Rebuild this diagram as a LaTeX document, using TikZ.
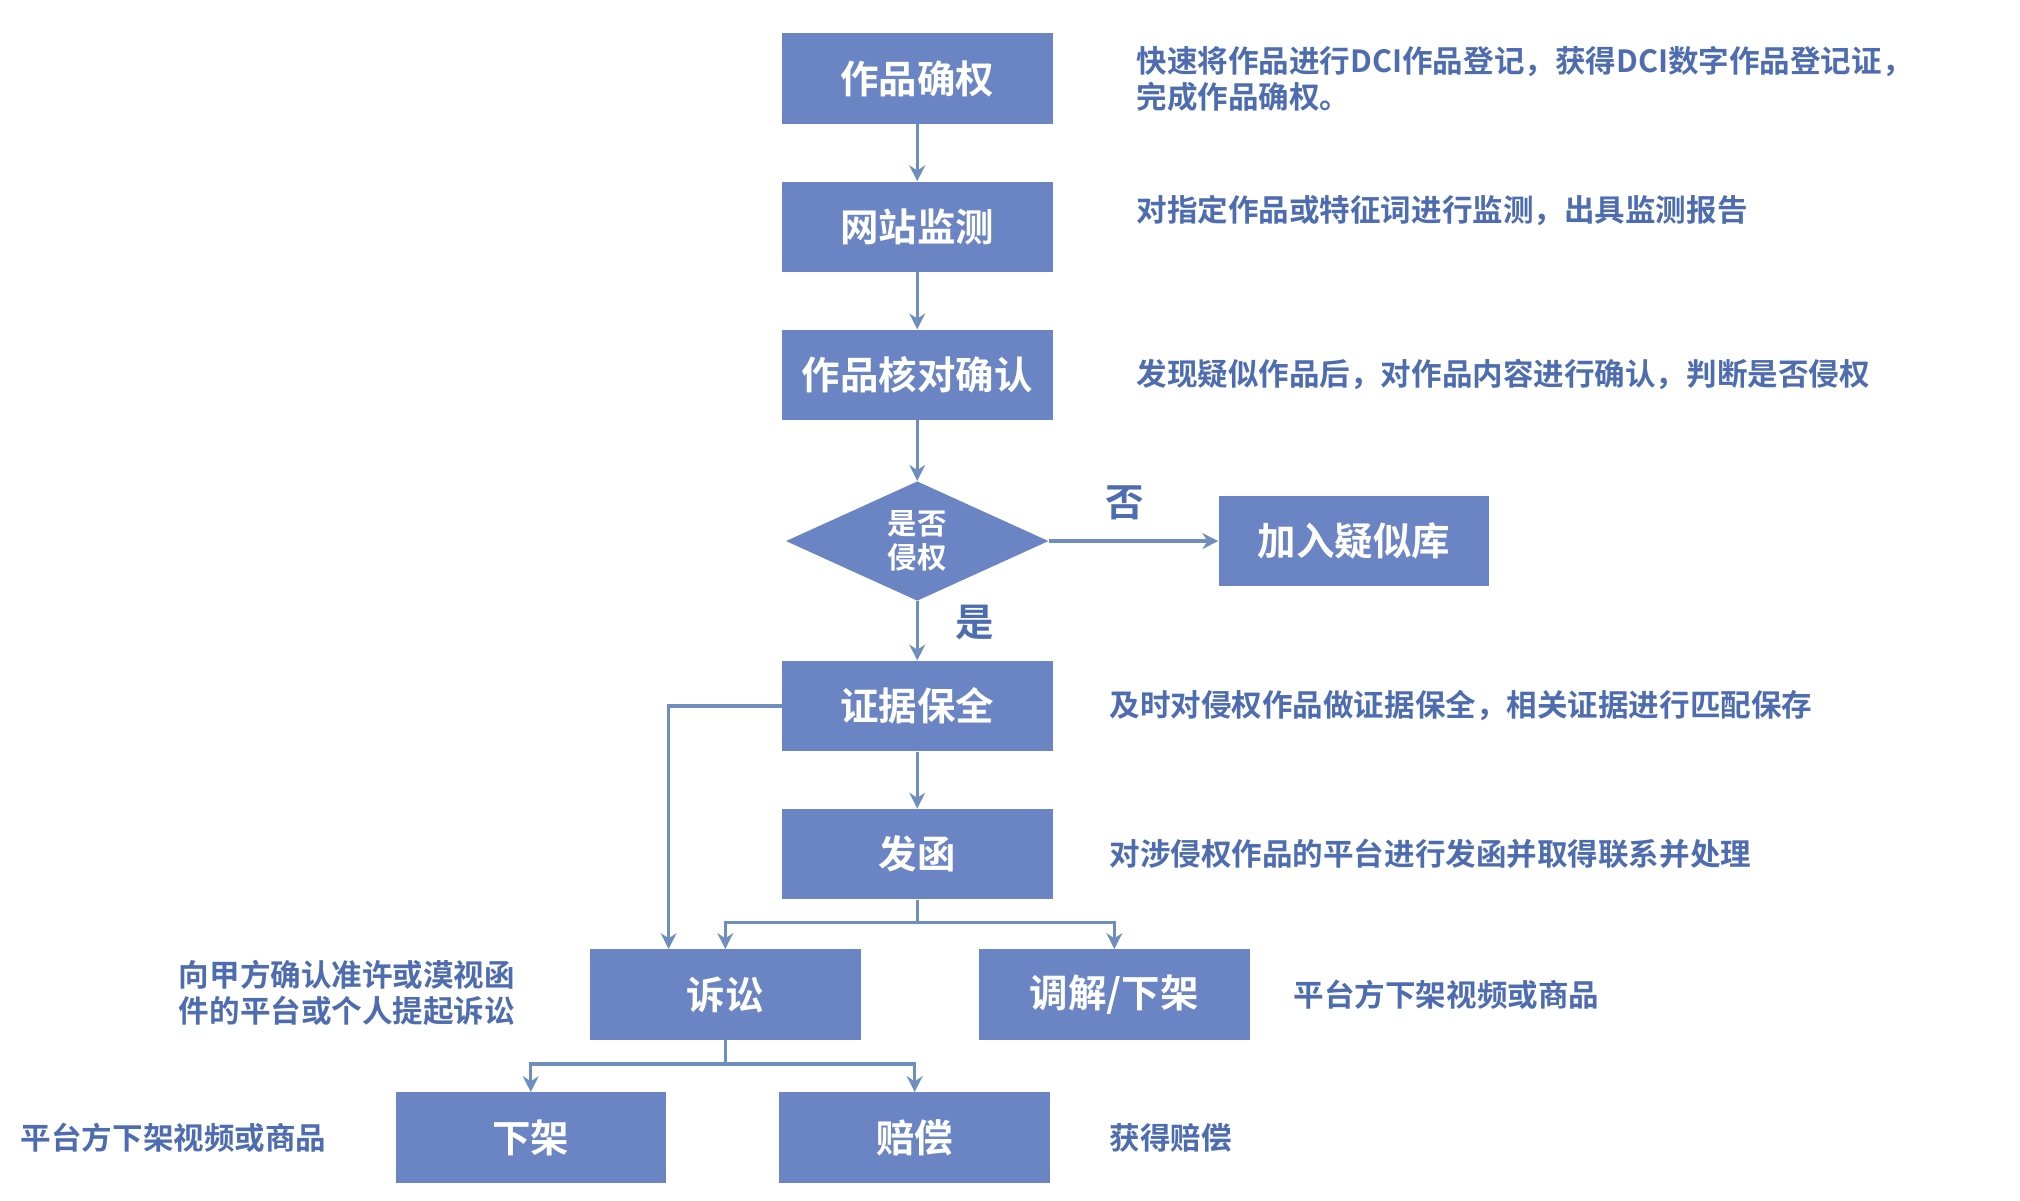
\documentclass[tikz,border=0pt]{standalone}
\usepackage{fontspec}
\newfontfamily\cjk{Noto Sans CJK SC}[BoldFont={Noto Sans CJK SC Bold}]
\usetikzlibrary{positioning,shapes.geometric,arrows.meta}
\definecolor{boxblue}{RGB}{106,132,196}
\definecolor{noteblue}{RGB}{78,108,176}
\definecolor{linkblue}{RGB}{110,143,190}
\tikzset{
  stepbox/.style={draw=none, fill=boxblue, minimum width=4.2cm, minimum height=1.4cm,
    font=\cjk\bfseries\fontsize{17}{20}\selectfont, text=white},
  note/.style={font=\cjk\bfseries\fontsize{13.5}{16}\selectfont, text=noteblue, align=left},
  link/.style={draw=linkblue, line width=1.5pt, -{Stealth[length=7pt,width=7pt]}}
}
\begin{document}
\begin{tikzpicture}[x=0.02cm,y=-0.02cm]
  \useasboundingbox (0,0) rectangle (1568,932);
  \node[stepbox] (zqq) at (712,61) {作品确权};
  \node[stepbox] (jc) at (712,176) {网站监测};
  \node[stepbox] (hd) at (712,291) {作品核对确认};
  \node[diamond, fill=boxblue, minimum width=4.08cm, minimum height=1.68cm, inner sep=0pt,
    text=white, align=center, font=\cjk\bfseries\fontsize{13}{15}\selectfont] (qq) at (712,420) {是否\\侵权};
  \node[stepbox] (yk) at (1051,420) {加入疑似库};
  \node[stepbox] (bq) at (712,548) {证据保全};
  \node[stepbox] (fh) at (712,663) {发函};
  \node[stepbox] (ss) at (563,772) {诉讼};
  \node[stepbox] (tj) at (865,772) {调解/下架};
  \node[stepbox] (xj) at (412,883) {下架};
  \node[stepbox] (pc) at (710,883) {赔偿};
  % notes
  \node[note, anchor=west] (n1) at (876,61) {快速将作品进行DCI作品登记，获得DCI数字作品登记证，\\完成作品确权。};
  \node[note, anchor=west] (n2) at (876,163) {对指定作品或特征词进行监测，出具监测报告};
  \node[note, anchor=west] (n3) at (876,291) {发现疑似作品后，对作品内容进行确认，判断是否侵权};
  \node[note, anchor=west] (n4) at (855,548) {及时对侵权作品做证据保全，相关证据进行匹配保存};
  \node[note, anchor=west] (n5) at (855,663) {对涉侵权作品的平台进行发函并取得联系并处理};
  \node[note, anchor=east] (n6) at (406,771) {向甲方确认准许或漠视函\\件的平台或个人提起诉讼};
  \node[note, anchor=west] (n7) at (998,772) {平台方下架视频或商品};
  \node[note, anchor=west] (n8) at (10,883) {平台方下架视频或商品};
  \node[note, anchor=west] (n9) at (855,883) {获得赔偿};
  \node[note, font=\cjk\bfseries\fontsize{17}{20}\selectfont] (no) at (873,390) {否};
  \node[note, font=\cjk\bfseries\fontsize{17}{20}\selectfont] (yes) at (757,483) {是};
  % links
  \draw[link] (zqq) -- (jc);
  \draw[link] (jc) -- (hd);
  \draw[link] (hd) -- (qq);
  \draw[link] (qq) -- (yk);
  \draw[link] (qq) -- (bq);
  \draw[link] (bq) -- (fh);
  \draw[link] (bq.west) -| ([xshift=-0.88cm]ss.north);
  \coordinate (f1) at (712,716);
  \draw[linkblue, line width=1.5pt] (fh.south) -- (f1);
  \draw[link] (f1) -| (ss.north);
  \draw[link] (f1) -| (tj.north);
  \coordinate (f2) at (563,826);
  \draw[linkblue, line width=1.5pt] (ss.south) -- (f2);
  \draw[link] (f2) -| (xj.north);
  \draw[link] (f2) -| (pc.north);
\end{tikzpicture}
\end{document}
